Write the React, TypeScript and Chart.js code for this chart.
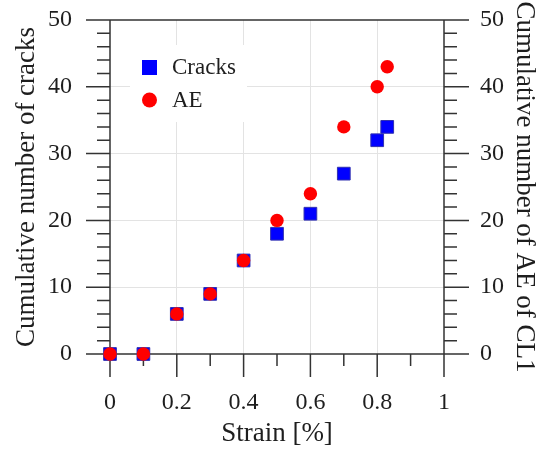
import React, { useEffect, useRef } from 'react';
import { Chart, registerables } from 'chart.js';

Chart.register(...registerables);

// ---- data ----
const strain = [0, 0.1, 0.2, 0.3, 0.4, 0.5, 0.6, 0.7, 0.8, 0.83];
const cracks = [0, 0, 6, 9, 14, 18, 21, 27, 32, 34];
const aeCounts = [0, 0, 6, 9, 14, 20, 24, 34, 40, 43];
const seriesNames = ['Cracks', 'AE'];
const xTickValues = [0, 0.2, 0.4, 0.6, 0.8, 1];
const xMinorTickValues = [0.1, 0.3, 0.5, 0.7, 0.9];
const yTickValues = [0, 10, 20, 30, 40, 50];
const yMinorTickValues = [2, 4, 6, 8, 12, 14, 16, 18, 22, 24, 26, 28, 32, 34, 36, 38, 42, 44, 46, 48];
const xTitle = 'Strain [%]';
const yTitle = 'Cumulative number of cracks';
const y1Title = 'Cumulative number of AE of CL1';

const FONT = "'Liberation Serif', 'Times New Roman', serif";
const TEXT = '#1e1e1e';
const AXIS = '#333333';
const GRID = '#e3e3e3';
const BLUE = '#0000ff';
const RED = '#ff0000';

const fmt = (v: number) => String(Math.round(v * 10) / 10);

const framePlugin = {
  id: 'frameTicks',
  beforeDatasetsDraw(chart: any) {
    const { ctx, chartArea: a, scales } = chart;
    const x = scales.x;
    const y = scales.y;
    const y1 = scales.y1;
    ctx.save();
    ctx.strokeStyle = AXIS;
    ctx.lineWidth = 1.5;
    ctx.beginPath();
    // frame
    ctx.rect(a.left, a.top, a.right - a.left, a.bottom - a.top);
    // x ticks
    xTickValues.forEach((v) => {
      const p = x.getPixelForValue(v);
      ctx.moveTo(p, a.bottom);
      ctx.lineTo(p, a.bottom + 23);
    });
    xMinorTickValues.forEach((v) => {
      const p = x.getPixelForValue(v);
      ctx.moveTo(p, a.bottom);
      ctx.lineTo(p, a.bottom + 12);
    });
    // left ticks
    yTickValues.forEach((v) => {
      const p = y.getPixelForValue(v);
      ctx.moveTo(a.left, p);
      ctx.lineTo(a.left - 24, p);
    });
    yMinorTickValues.forEach((v) => {
      const p = y.getPixelForValue(v);
      ctx.moveTo(a.left, p);
      ctx.lineTo(a.left - 13, p);
    });
    // right ticks
    yTickValues.forEach((v) => {
      const p = y1.getPixelForValue(v);
      ctx.moveTo(a.right, p);
      ctx.lineTo(a.right + 25, p);
    });
    yMinorTickValues.forEach((v) => {
      const p = y1.getPixelForValue(v);
      ctx.moveTo(a.right, p);
      ctx.lineTo(a.right + 13, p);
    });
    ctx.stroke();

    // inset legend
    ctx.fillStyle = '#ffffff';
    ctx.fillRect(a.left + 20, a.top + 25, 117, 77);
    const ds = chart.data.datasets;
    // Cracks square
    ctx.fillStyle = ds[0].backgroundColor;
    ctx.fillRect(a.left + 32, a.top + 40, 15, 15);
    // AE circle
    ctx.fillStyle = ds[1].backgroundColor;
    ctx.beginPath();
    ctx.arc(a.left + 39.5, a.top + 80, 7.5, 0, Math.PI * 2);
    ctx.fill();
    ctx.fillStyle = TEXT;
    ctx.font = `23px ${FONT}`;
    ctx.textBaseline = 'middle';
    ctx.textAlign = 'left';
    ctx.fillText(ds[0].label, a.left + 62, a.top + 48);
    ctx.fillText(ds[1].label, a.left + 62, a.top + 81);
    ctx.restore();
  },
};

export default function App() {
  const canvasRef = useRef<HTMLCanvasElement | null>(null);

  useEffect(() => {
    const canvas = canvasRef.current;
    if (!canvas) return;
    const gridColor = (lo: number, hi: number) => (c: any) =>
      c.tick && (c.tick.value === lo || c.tick.value === hi) ? 'rgba(0,0,0,0)' : GRID;

    const chart = new Chart(canvas, {
      type: 'scatter',
      data: {
        datasets: [
          {
            label: seriesNames[0],
            data: strain.map((s, i) => ({ x: s, y: cracks[i] })),
            backgroundColor: BLUE,
            borderColor: '#3030b0',
            borderWidth: 1,
            pointStyle: 'rect',
            pointRadius: 9,
            pointHoverRadius: 9,
            xAxisID: 'x',
            yAxisID: 'y',
            order: 2,
            clip: false,
          },
          {
            label: seriesNames[1],
            data: strain.map((s, i) => ({ x: s, y: aeCounts[i] })),
            backgroundColor: RED,
            borderColor: RED,
            borderWidth: 0,
            pointStyle: 'circle',
            pointRadius: 6.7,
            pointHoverRadius: 6.7,
            xAxisID: 'x',
            yAxisID: 'y1',
            order: 1,
            clip: false,
          },
        ],
      },
      options: {
        responsive: false,
        animation: false,
        devicePixelRatio: 1,
        layout: { padding: { top: 20, left: 0, right: 0, bottom: 0 } },
        plugins: {
          legend: { display: false },
          tooltip: { enabled: false },
        },
        scales: {
          x: {
            type: 'linear',
            position: 'bottom',
            min: 0,
            max: 1,
            afterBuildTicks: (s: any) => {
              s.ticks = xTickValues.map((v) => ({ value: v }));
            },
            afterFit: (s: any) => {
              s.height = 97;
              s.paddingLeft = 10;
              s.paddingRight = 10;
            },
            ticks: {
              callback: (v: any) => fmt(Number(v)),
              font: { family: FONT, size: 24 },
              color: TEXT,
              padding: 34,
              maxRotation: 0,
              autoSkip: false,
            },
            grid: { color: gridColor(0, 1), drawTicks: false, lineWidth: 1 },
            border: { display: false },
            title: {
              display: true,
              text: xTitle,
              font: { family: FONT, size: 27, lineHeight: 1 },
              color: TEXT,
              padding: { top: 0, bottom: 4 },
            },
          },
          y: {
            type: 'linear',
            position: 'left',
            min: 0,
            max: 50,
            afterBuildTicks: (s: any) => {
              s.ticks = yTickValues.map((v) => ({ value: v }));
            },
            afterFit: (s: any) => {
              s.width = 110;
              s.paddingTop = 14;
              s.paddingBottom = 14;
            },
            ticks: {
              font: { family: FONT, size: 24 },
              color: TEXT,
              padding: 38,
            },
            grid: { color: gridColor(0, 50), drawTicks: false, lineWidth: 1 },
            border: { display: false },
            title: {
              display: true,
              text: yTitle,
              font: { family: FONT, size: 27, lineHeight: 1 },
              color: TEXT,
              padding: { top: 13, bottom: 0 },
            },
          },
          y1: {
            type: 'linear',
            position: 'right',
            min: 0,
            max: 50,
            afterBuildTicks: (s: any) => {
              s.ticks = yTickValues.map((v) => ({ value: v }));
            },
            afterFit: (s: any) => {
              s.width = 94;
              s.paddingTop = 14;
              s.paddingBottom = 14;
            },
            ticks: {
              font: { family: FONT, size: 24 },
              color: TEXT,
              padding: 36,
            },
            grid: { drawOnChartArea: false, drawTicks: false },
            border: { display: false },
            title: {
              display: true,
              text: y1Title,
              font: { family: FONT, size: 27, lineHeight: 1 },
              color: TEXT,
              padding: { top: 0, bottom: 0 },
            },
          },
        },
      },
      plugins: [framePlugin],
    });

    return () => {
      chart.destroy();
    };
  }, []);

  return (
    <div style={{ position: 'fixed', left: 0, top: 0, width: 538, height: 451, background: '#ffffff' }}>
      <canvas ref={canvasRef} width={538} height={451} style={{ width: 538, height: 451, display: 'block' }} />
    </div>
  );
}
